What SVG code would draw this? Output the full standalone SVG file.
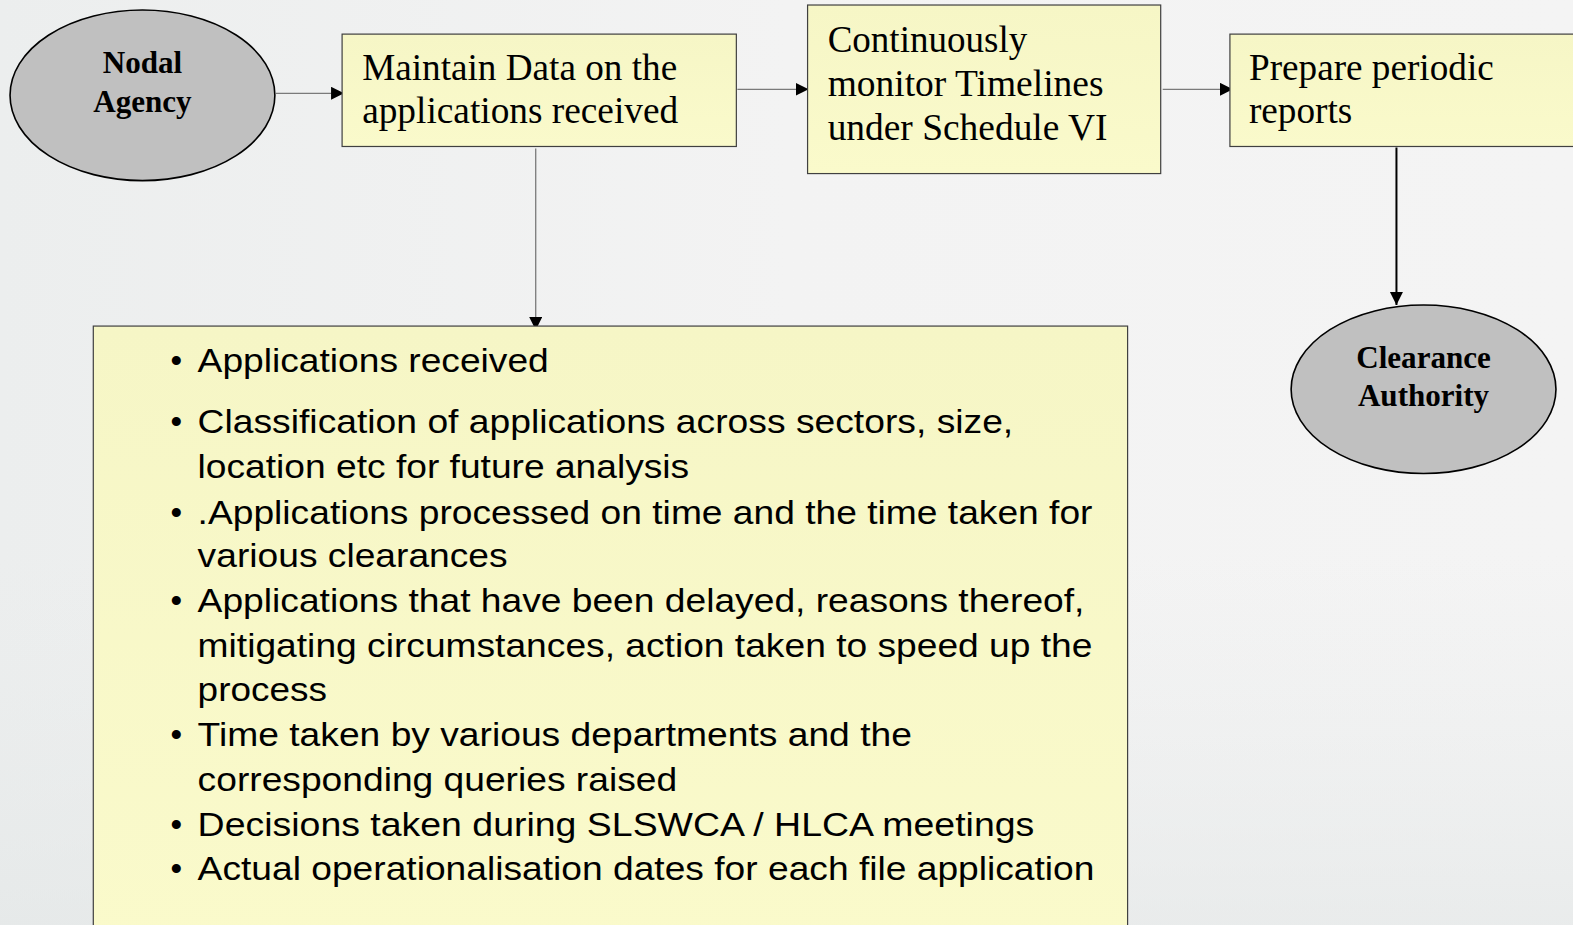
<svg xmlns="http://www.w3.org/2000/svg" width="1573" height="925" viewBox="0 0 1573 925">
<defs>
<linearGradient id="bg" x1="0" y1="0" x2="1" y2="0">
<stop offset="0" stop-color="#eceeee"/>
<stop offset="0.5" stop-color="#f3f3f3"/>
<stop offset="1" stop-color="#f4f4f4"/>
</linearGradient>
<linearGradient id="bgv" x1="0" y1="0" x2="0" y2="1">
<stop offset="0.6" stop-color="#e8ebeb" stop-opacity="0"/>
<stop offset="1" stop-color="#e2e6e6" stop-opacity="0.6"/>
</linearGradient>
<linearGradient id="yel" x1="0" y1="0" x2="0" y2="1">
<stop offset="0" stop-color="#f6f6c6"/>
<stop offset="1" stop-color="#fafacb"/>
</linearGradient>
<marker id="ah" markerUnits="userSpaceOnUse" markerWidth="14" markerHeight="14" refX="13" refY="6.5" orient="auto">
<path d="M0,0 L13,6.5 L0,13 Z" fill="#000"/>
</marker>
</defs>
<style>
.box{fill:url(#yel);stroke:#404040;stroke-width:1.2}
.ell{fill:#c0c0c0;stroke:#000;stroke-width:1.6}
.t{font-family:"Liberation Serif","Times New Roman",serif;font-size:37px;fill:#000}
.tb{font-family:"Liberation Serif","Times New Roman",serif;font-size:31px;font-weight:bold;fill:#000;text-anchor:middle}
.b{font-family:"Liberation Sans",Arial,sans-serif;font-size:33px;fill:#000}
.c{stroke:#7a7a7a;stroke-width:1.3;fill:none}
.cb{stroke:#000;stroke-width:2;fill:none}
</style>
<rect x="0" y="0" width="1573" height="925" fill="url(#bg)"/>
<rect x="0" y="0" width="1573" height="925" fill="url(#bgv)"/>

<g transform="scale(1.0032,1.0033)">
<g id="connectors">
<line class="c" x1="275" y1="93" x2="343" y2="93" marker-end="url(#ah)"/>
<line class="c" x1="735" y1="89" x2="806" y2="89" marker-end="url(#ah)"/>
<line class="c" x1="1159" y1="89" x2="1229" y2="89" marker-end="url(#ah)"/>
<line class="c" x1="534" y1="148" x2="534" y2="329" marker-end="url(#ah)"/>
<line class="cb" x1="1392" y1="147" x2="1392" y2="304" marker-end="url(#ah)"/>
</g>

<g id="nodal-agency">
<ellipse class="ell" cx="142" cy="95" rx="132" ry="85"/>
<text class="tb" x="142" y="73">Nodal</text>
<text class="tb" x="142" y="112">Agency</text>
</g>

<g id="maintain-data">
<rect class="box" x="341" y="34" width="393" height="112"/>
<text class="t" x="361" y="80" textLength="314" lengthAdjust="spacingAndGlyphs">Maintain Data on the</text>
<text class="t" x="361" y="123" textLength="315" lengthAdjust="spacingAndGlyphs">applications received</text>
</g>

<g id="monitor-timelines">
<rect class="box" x="805" y="5" width="352" height="168"/>
<text class="t" x="825" y="52" textLength="199" lengthAdjust="spacingAndGlyphs">Continuously</text>
<text class="t" x="825" y="96" textLength="275" lengthAdjust="spacingAndGlyphs">monitor Timelines</text>
<text class="t" x="825" y="140" textLength="279" lengthAdjust="spacingAndGlyphs">under Schedule VI</text>
</g>

<g id="periodic-reports">
<rect class="box" x="1226" y="34" width="360" height="112"/>
<text class="t" x="1245" y="80" textLength="244" lengthAdjust="spacingAndGlyphs">Prepare periodic</text>
<text class="t" x="1245" y="123" textLength="103" lengthAdjust="spacingAndGlyphs">reports</text>
</g>

<g id="clearance-authority">
<ellipse class="ell" cx="1419" cy="388" rx="132" ry="84"/>
<text class="tb" x="1419" y="367">Clearance</text>
<text class="tb" x="1419" y="405">Authority</text>
</g>

<g id="data-list">
<rect class="box" x="93" y="325" width="1031" height="620"/>
<g class="b">
<text x="170" y="371">•</text><text x="197" y="371" textLength="350" lengthAdjust="spacingAndGlyphs">Applications received</text>
<text x="170" y="432">•</text><text x="197" y="432" textLength="813" lengthAdjust="spacingAndGlyphs">Classification of applications across sectors, size,</text>
<text x="197" y="476" textLength="490" lengthAdjust="spacingAndGlyphs">location etc for future analysis</text>
<text x="170" y="522">•</text><text x="197" y="522" textLength="892" lengthAdjust="spacingAndGlyphs">.Applications processed on time and the time taken for</text>
<text x="197" y="565" textLength="309" lengthAdjust="spacingAndGlyphs">various clearances</text>
<text x="170" y="610">•</text><text x="197" y="610" textLength="884" lengthAdjust="spacingAndGlyphs">Applications that have been delayed, reasons thereof,</text>
<text x="197" y="655" textLength="892" lengthAdjust="spacingAndGlyphs">mitigating circumstances, action taken to speed up the</text>
<text x="197" y="699" textLength="129" lengthAdjust="spacingAndGlyphs">process</text>
<text x="170" y="744">•</text><text x="197" y="744" textLength="712" lengthAdjust="spacingAndGlyphs">Time taken by various departments and the</text>
<text x="197" y="788" textLength="478" lengthAdjust="spacingAndGlyphs">corresponding queries raised</text>
<text x="170" y="833">•</text><text x="197" y="833" textLength="834" lengthAdjust="spacingAndGlyphs">Decisions taken during SLSWCA / HLCA meetings</text>
<text x="170" y="877">•</text><text x="197" y="877" textLength="894" lengthAdjust="spacingAndGlyphs">Actual operationalisation dates for each file application</text>
</g>
</g>
</g>
</svg>
